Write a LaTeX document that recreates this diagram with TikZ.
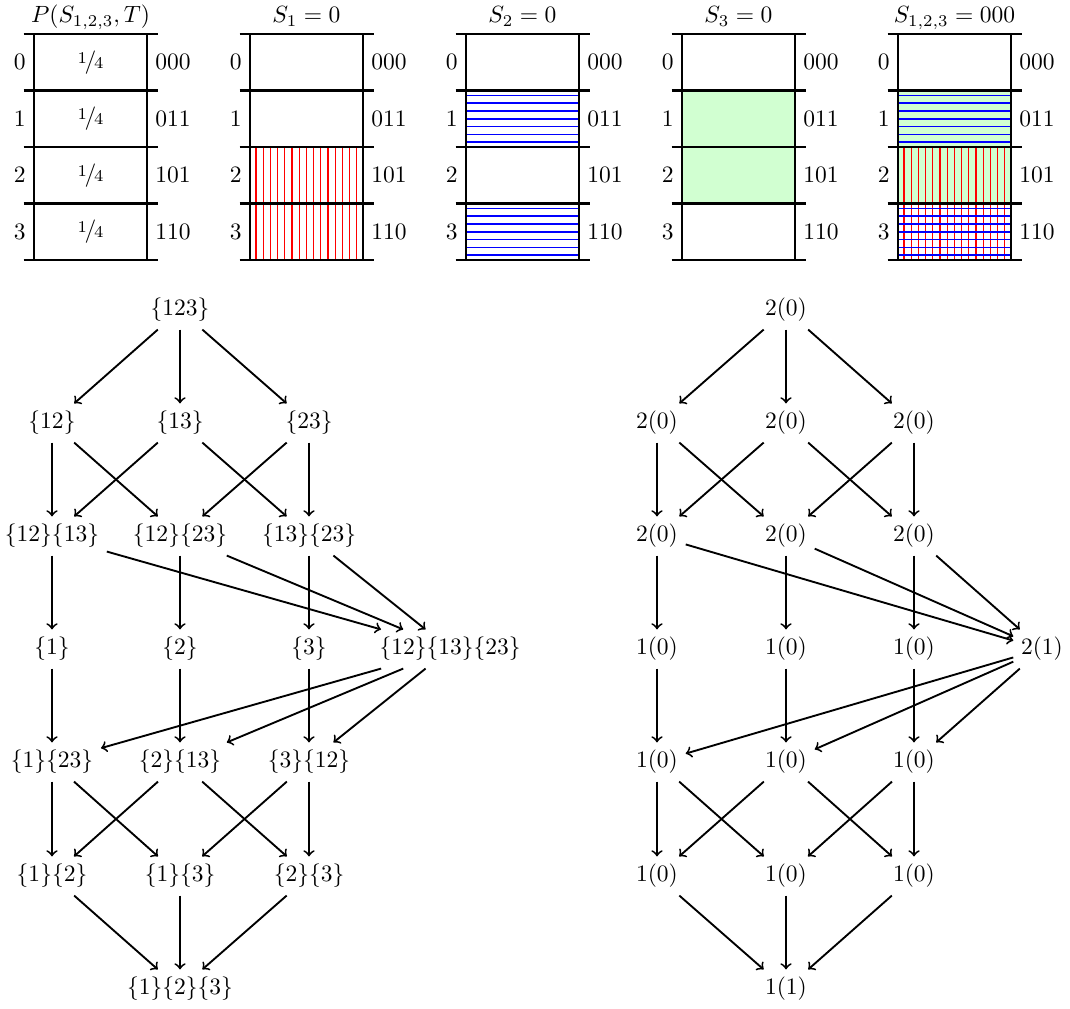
\documentclass[tikz,border=0pt]{standalone}
\usepackage{amsmath, amsthm, amssymb}
\usepackage{tkz-graph}
\usetikzlibrary{arrows}

\newcommand{\quarterFrac}{\raisebox{0.5ex}{\scriptsize 1}\kern-0.1em/\kern-0.1em{\scriptsize 4}}

\begin{document}
\begin{tikzpicture}[x = 0.4255pt, y = -0.4255pt]
\tikzstyle{VertexStyle} = []
\tikzstyle{EdgeStyle} = [draw, ->, thick]
\tikzstyle{setStyle} = [shape = rectangle, inner sep = 3.33pt]
\tikzstyle{ruleStyle} = [line width = 1.25pt]
\tikzstyle{redStyle} = [red, line width = 0.5pt]
\tikzstyle{blueStyle} = [blue, line width = 0.7pt]
\tikzstyle{greenStyle} = [fill = green!18]
\useasboundingbox (0,0) rectangle (1070,1009);
% shaded cells
\fill[greenStyle] (682,90.5) rectangle (795,203.5);
\fill[greenStyle] (898,90.5) rectangle (1011,203.5);
\foreach \i in {0,...,14} {
  \draw[redStyle] (256+7.2*\i,147) -- (256+7.2*\i,260);
  \draw[redStyle] (904+7.2*\i,147) -- (904+7.2*\i,260);
}
\foreach \i in {0,...,6} {
  \draw[blueStyle] (466,95.4+7.8*\i) -- (579,95.4+7.8*\i);
  \draw[blueStyle] (466,208.4+7.8*\i) -- (579,208.4+7.8*\i);
  \draw[blueStyle] (898,95.4+7.8*\i) -- (1011,95.4+7.8*\i);
  \draw[blueStyle] (898,208.4+7.8*\i) -- (1011,208.4+7.8*\i);
}
% tables
\foreach \x/\title in {34/{$P(S_{1,2,3},T)$}, 250/{$S_1 = 0$}, 466/{$S_2 = 0$}, 682/{$S_3 = 0$}, 898/{$S_{1,2,3} = 000$}} {
  \draw[ruleStyle] (\x,34) -- (\x,260) (\x+113,34) -- (\x+113,260);
  \foreach \y in {34, 90.5, 147, 203.5, 260}
    \draw[ruleStyle] (\x-10.5,\y) -- (\x+123.5,\y);
  \node[anchor = base] (title\x) at (\x+56.5,23) {\title};
  \foreach \r/\bits in {0/000, 1/011, 2/101, 3/110} {
    \node[left] (row\x\r) at (\x, 62.25+56.5*\r) {$\r$};
    \node[right] (bits\x\r) at (\x+113, 62.25+56.5*\r) {$\bits$};
  }
}
\foreach \r in {0,...,3}
  \node (quarter\r) at (90.5, 62.25+56.5*\r) {\quarterFrac};
% partition lattice
\Vertex[style = setStyle, x = 180, y = 310, L = {$\{123\}$}]{p123}
\Vertex[style = setStyle, x = 52, y = 423, L = {$\{12\}$}]{p12}
\Vertex[style = setStyle, x = 180, y = 423, L = {$\{13\}$}]{p13}
\Vertex[style = setStyle, x = 309, y = 423, L = {$\{23\}$}]{p23}
\Vertex[style = setStyle, x = 52, y = 536, L = {$\{12\}\{13\}$}]{p12p13}
\Vertex[style = setStyle, x = 180, y = 536, L = {$\{12\}\{23\}$}]{p12p23}
\Vertex[style = setStyle, x = 309, y = 536, L = {$\{13\}\{23\}$}]{p13p23}
\Vertex[style = setStyle, x = 52, y = 649, L = {$\{1\}$}]{p1}
\Vertex[style = setStyle, x = 180, y = 649, L = {$\{2\}$}]{p2}
\Vertex[style = setStyle, x = 309, y = 649, L = {$\{3\}$}]{p3}
\Vertex[style = setStyle, x = 450, y = 649, L = {$\{12\}\{13\}\{23\}$}]{p12p13p23}
\Vertex[style = setStyle, x = 52, y = 762, L = {$\{1\}\{23\}$}]{p1p23}
\Vertex[style = setStyle, x = 180, y = 762, L = {$\{2\}\{13\}$}]{p2p13}
\Vertex[style = setStyle, x = 309, y = 762, L = {$\{3\}\{12\}$}]{p3p12}
\Vertex[style = setStyle, x = 52, y = 876, L = {$\{1\}\{2\}$}]{p1p2}
\Vertex[style = setStyle, x = 180, y = 876, L = {$\{1\}\{3\}$}]{p1p3}
\Vertex[style = setStyle, x = 309, y = 876, L = {$\{2\}\{3\}$}]{p2p3}
\Vertex[style = setStyle, x = 180, y = 989, L = {$\{1\}\{2\}\{3\}$}]{p1p2p3}
\Edge(p123)(p12)
\Edge(p123)(p13)
\Edge(p123)(p23)
\Edge(p12)(p12p13)
\Edge(p12)(p12p23)
\Edge(p13)(p12p13)
\Edge(p13)(p13p23)
\Edge(p23)(p12p23)
\Edge(p23)(p13p23)
\Edge(p12p13)(p1)
\Edge(p12p23)(p2)
\Edge(p13p23)(p3)
\Edge(p12p13)(p12p13p23)
\Edge(p12p23)(p12p13p23)
\Edge(p13p23)(p12p13p23)
\Edge(p1)(p1p23)
\Edge(p2)(p2p13)
\Edge(p3)(p3p12)
\Edge(p12p13p23)(p1p23)
\Edge(p12p13p23)(p2p13)
\Edge(p12p13p23)(p3p12)
\Edge(p1p23)(p1p2)
\Edge(p1p23)(p1p3)
\Edge(p2p13)(p1p2)
\Edge(p2p13)(p2p3)
\Edge(p3p12)(p1p3)
\Edge(p3p12)(p2p3)
\Edge(p1p2)(p1p2p3)
\Edge(p1p3)(p1p2p3)
\Edge(p2p3)(p1p2p3)
% counts lattice
\Vertex[style = setStyle, x = 786, y = 310, L = {$2(0)$}]{q123}
\Vertex[style = setStyle, x = 657, y = 423, L = {$2(0)$}]{q12}
\Vertex[style = setStyle, x = 786, y = 423, L = {$2(0)$}]{q13}
\Vertex[style = setStyle, x = 914, y = 423, L = {$2(0)$}]{q23}
\Vertex[style = setStyle, x = 657, y = 536, L = {$2(0)$}]{q12q13}
\Vertex[style = setStyle, x = 786, y = 536, L = {$2(0)$}]{q12q23}
\Vertex[style = setStyle, x = 914, y = 536, L = {$2(0)$}]{q13q23}
\Vertex[style = setStyle, x = 657, y = 649, L = {$1(0)$}]{q1}
\Vertex[style = setStyle, x = 786, y = 649, L = {$1(0)$}]{q2}
\Vertex[style = setStyle, x = 914, y = 649, L = {$1(0)$}]{q3}
\Vertex[style = setStyle, x = 1042, y = 649, L = {$2(1)$}]{q12q13q23}
\Vertex[style = setStyle, x = 657, y = 762, L = {$1(0)$}]{q1q23}
\Vertex[style = setStyle, x = 786, y = 762, L = {$1(0)$}]{q2q13}
\Vertex[style = setStyle, x = 914, y = 762, L = {$1(0)$}]{q3q12}
\Vertex[style = setStyle, x = 657, y = 876, L = {$1(0)$}]{q1q2}
\Vertex[style = setStyle, x = 786, y = 876, L = {$1(0)$}]{q1q3}
\Vertex[style = setStyle, x = 914, y = 876, L = {$1(0)$}]{q2q3}
\Vertex[style = setStyle, x = 786, y = 989, L = {$1(1)$}]{q1q2q3}
\Edge(q123)(q12)
\Edge(q123)(q13)
\Edge(q123)(q23)
\Edge(q12)(q12q13)
\Edge(q12)(q12q23)
\Edge(q13)(q12q13)
\Edge(q13)(q13q23)
\Edge(q23)(q12q23)
\Edge(q23)(q13q23)
\Edge(q12q13)(q1)
\Edge(q12q23)(q2)
\Edge(q13q23)(q3)
\Edge(q12q13)(q12q13q23)
\Edge(q12q23)(q12q13q23)
\Edge(q13q23)(q12q13q23)
\Edge(q1)(q1q23)
\Edge(q2)(q2q13)
\Edge(q3)(q3q12)
\Edge(q12q13q23)(q1q23)
\Edge(q12q13q23)(q2q13)
\Edge(q12q13q23)(q3q12)
\Edge(q1q23)(q1q2)
\Edge(q1q23)(q1q3)
\Edge(q2q13)(q1q2)
\Edge(q2q13)(q2q3)
\Edge(q3q12)(q1q3)
\Edge(q3q12)(q2q3)
\Edge(q1q2)(q1q2q3)
\Edge(q1q3)(q1q2q3)
\Edge(q2q3)(q1q2q3)
\end{tikzpicture}
\end{document}
